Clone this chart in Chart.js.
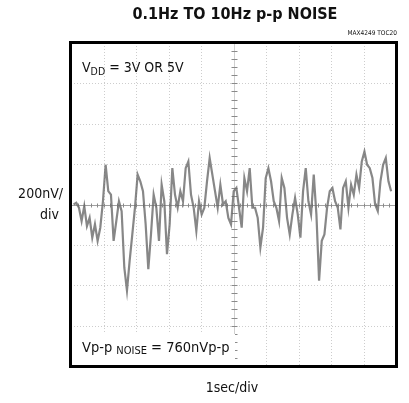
<!DOCTYPE html>
<html>
<head>
<meta charset="utf-8">
<script src="https://cdn.jsdelivr.net/npm/chart.js@4.4.0/dist/chart.umd.min.js"></script>
<style>
  body { margin: 0; background: #fff; }
</style>
</head>
<body>
<canvas id="chart" width="409" height="403"></canvas>
<script>
const noiseLeft = [0, 8, -16, -82, -8, -107, -66, -164, -98, -180, -115, 16, 197, 66, 49, -180,
  -82, 16, -33, -312, -426, -279, -148, -16, 148, 115, 66, -98, -320, -148, 49, -16, -180, 98,
  16, -246, -98, 180, 49, -16, 66, 16, 180, 213, 49, -16, -131, 16, -49, -16, 115, 230, 148, 66,
  -16, 98, 0];
const noiseRight = [16, -66, -98, 66, 82, -16, -115, 131, 66, 180, -16, -16, -66, -213, -115, 131,
  180, 115, 16, -16, -82, 131, 82, -66, -148, -49, 33, -49, -164, 66, 180, 16, -49, 148, -49,
  -377, -180, -148, -16, 66, 82, 16, -16, -123, 82, 115, -16, 98, 49, 148, 82, 213, 262, 197,
  180, 131, 0, -33, 115, 197, 230, 115, 66];
const noise = noiseLeft.concat(noiseRight);

// 1sec/div, 10 divisions; 200nV/div, 8 divisions
const xDivs = [0, 1, 2, 3, 4, 5, 6, 7, 8, 9, 10];
const yDivs = [-800, -600, -400, -200, 0, 200, 400, 600, 800];
const tStart = 0.08, tEnd = 9.85;
const times = noise.map((v, i) => tStart + i * (tEnd - tStart) / (noise.length - 1));

const narrow = "'Liberation Sans Narrow', 'DejaVu Sans Condensed', Arial, sans-serif";

// scope graticule: dotted grid plus ticked centre cross
const scopeGrid = {
  id: "scopeGrid",
  beforeDatasetsDraw(chart) {
    const { ctx, chartArea: a, scales: { x, y } } = chart;
    ctx.save();
    ctx.lineWidth = 1;
    ctx.strokeStyle = "#cdcdcd";
    ctx.setLineDash([1, 2]);
    xDivs.forEach(t => {
      const px = Math.round(x.getPixelForValue(t)) + 0.5;
      ctx.beginPath(); ctx.moveTo(px, a.top); ctx.lineTo(px, a.bottom); ctx.stroke();
    });
    yDivs.forEach(v => {
      const py = Math.round(y.getPixelForValue(v)) + 0.5;
      ctx.beginPath(); ctx.moveTo(a.left, py); ctx.lineTo(a.right, py); ctx.stroke();
    });
    ctx.setLineDash([]);
    const cx = Math.round(x.getPixelForValue(5)) + 0.5;
    const cy = Math.round(y.getPixelForValue(0)) + 0.5;
    ctx.strokeStyle = "#a0a0a0";
    ctx.beginPath(); ctx.moveTo(a.left, cy); ctx.lineTo(a.right, cy); ctx.stroke();
    ctx.strokeStyle = "#d0d0d0";
    ctx.beginPath(); ctx.moveTo(cx, a.top); ctx.lineTo(cx, a.bottom); ctx.stroke();
    // minor ticks, 5 per division
    ctx.strokeStyle = "#8a8a8a";
    for (let v = -800; v <= 800; v += 40) {
      const py = Math.round(y.getPixelForValue(v)) + 0.5;
      ctx.beginPath(); ctx.moveTo(cx - 3, py); ctx.lineTo(cx + 3, py); ctx.stroke();
    }
    for (let t = 0; t <= 10; t += 0.2) {
      const px = Math.round(x.getPixelForValue(t)) + 0.5;
      ctx.beginPath(); ctx.moveTo(px, cy - 2); ctx.lineTo(px, cy + 2); ctx.stroke();
    }
    ctx.restore();
  },
  afterDraw(chart) {
    const { ctx, chartArea: a } = chart;
    ctx.save();
    // label box at bottom
    ctx.fillStyle = "#fff";
    ctx.fillRect(a.left, a.bottom - 32, 164, 32);
    ctx.fillStyle = "#111";
    ctx.textBaseline = "alphabetic";
    ctx.textAlign = "left";
    let px = 82;
    ctx.font = "14.5px " + narrow;
    ctx.fillText("Vp-p ", px, 352);
    px += ctx.measureText("Vp-p ").width;
    ctx.font = "11px " + narrow;
    ctx.fillText("NOISE", px, 354);
    px += ctx.measureText("NOISE").width;
    ctx.font = "14.5px " + narrow;
    ctx.fillText(" = 760nVp-p", px, 352);

    px = 82;
    ctx.font = "14px " + narrow;
    ctx.fillText("V", px, 72);
    px += ctx.measureText("V").width;
    ctx.font = "10.5px " + narrow;
    ctx.fillText("DD", px, 75);
    px += ctx.measureText("DD").width;
    ctx.font = "14px " + narrow;
    ctx.fillText(" = 3V OR 5V", px, 72);

    // frame
    ctx.strokeStyle = "#000";
    ctx.lineWidth = 3;
    ctx.strokeRect(a.left - 0.5, a.top - 0.5, a.right - a.left + 1, a.bottom - a.top + 1);

    // outer texts
    ctx.textAlign = "center";
    ctx.font = "bold 16px " + narrow;
    ctx.fillText("0.1Hz TO 10Hz p-p NOISE", 235, 19);
    ctx.font = "14px " + narrow;
    ctx.fillText("1sec/div", 232, 392);
    ctx.textAlign = "right";
    ctx.font = "14px " + narrow;
    ctx.fillText("200nV/", 63, 198);
    ctx.fillText("div", 59, 219);
    ctx.font = "6.5px " + narrow;
    ctx.fillText("MAX4249 TOC20", 397, 35);
    ctx.restore();
  }
};

new Chart(document.querySelector("#chart").getContext("2d"), {
  type: "line",
  data: {
    datasets: [{
      data: noise.map((v, i) => ({ x: times[i], y: v })),
      borderColor: "rgba(105, 105, 105, 0.8)",
      borderWidth: 2.2,
      pointRadius: 0,
      tension: 0
    }]
  },
  options: {
    responsive: false,
    animation: false,
    layout: { padding: { left: 71, top: 43, right: 13, bottom: 37 } },
    plugins: { legend: { display: false }, tooltip: { enabled: false } },
    scales: {
      x: { type: "linear", min: 0, max: 10, display: false },
      y: { min: -800, max: 800, display: false }
    }
  },
  plugins: [scopeGrid]
});
</script>
</body>
</html>
